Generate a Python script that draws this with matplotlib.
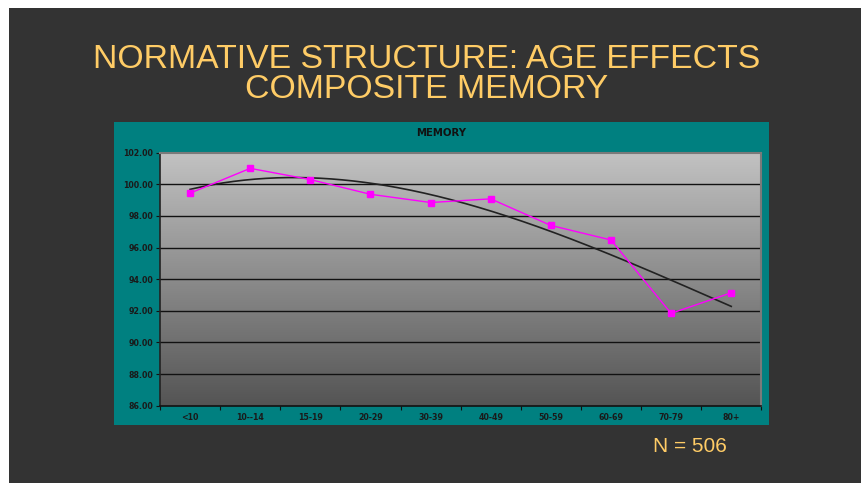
import numpy as np
import matplotlib
matplotlib.use("Agg")
import matplotlib.pyplot as plt
from matplotlib.patches import Rectangle

# ---- data ----
categories = ["<10", "10--14", "15-19", "20-29", "30-39", "40-49", "50-59", "60-69", "70-79", "80+"]
memory = [99.44, 101.01, 100.30, 99.37, 98.85, 99.08, 97.40, 96.48, 91.84, 93.14]
y_ticks = [86, 88, 90, 92, 94, 96, 98, 100, 102]
title_line1 = "NORMATIVE STRUCTURE: AGE EFFECTS"
title_line2 = "COMPOSITE MEMORY"
chart_title = "MEMORY"
note = "N = 506"

W, H = 862, 483
fig = plt.figure(figsize=(W / 100, H / 100), dpi=100)
fig.patch.set_facecolor("white")

def fx(px):
    return px / W

def fy(py):
    return 1 - py / H

# dark slide background
fig.add_artist(Rectangle((fx(9), 0), fx(861) - fx(9), fy(8), transform=fig.transFigure,
                         facecolor="#333333", edgecolor="none", zorder=0))
# teal chart panel
fig.add_artist(Rectangle((fx(113.7), fy(425)), fx(769.3) - fx(113.7), fy(121.7) - fy(425),
                         transform=fig.transFigure, facecolor="#008080", edgecolor="none", zorder=0))

gold = "#FFCC66"
fig.text(fx(427), fy(60), title_line1, ha="center", va="center", color=gold,
         fontsize=24.3, family="Liberation Sans")
fig.text(fx(427), fy(89), title_line2, ha="center", va="center", color=gold,
         fontsize=24.3, family="Liberation Sans")
fig.text(fx(690), fy(447), note, ha="center", va="center", color=gold,
         fontsize=15, family="Liberation Sans")
fig.text(fx(441), fy(133), chart_title, ha="center", va="center", color="#111111",
         fontsize=7.3, family="DejaVu Sans", fontweight="bold")

ax = fig.add_axes([fx(160), fy(405.7), fx(761.3) - fx(160), fy(152.7) - fy(405.7)])
ax.set_facecolor("none")

x = np.arange(1, len(categories) + 1)
ax.set_xlim(0.5, len(categories) + 0.5)
ax.set_ylim(86, 102)

# gradient background of plot area
grad = np.linspace(0, 1, 256)[:, None]
top = np.array([0.76, 0.76, 0.76])
bot = np.array([0.33, 0.33, 0.33])
img = top[None, None, :] * (1 - grad[:, :, None]) + bot[None, None, :] * grad[:, :, None]
ax.imshow(img, extent=[0.5, len(categories) + 0.5, 86, 102], aspect="auto", zorder=0,
          origin="upper")

# gridlines
for yt in y_ticks[1:-1]:
    ax.axhline(yt, color="#111111", lw=1.0, zorder=1)

# polynomial trendline
coef = np.polyfit(x, memory, 3)
xs = np.linspace(1, len(categories), 200)
ax.plot(xs, np.polyval(coef, xs), color="#222222", lw=1.2, zorder=2)

ax.plot(x, memory, color="#FF00FF", lw=1.0, marker="s", markersize=4,
        markerfacecolor="#FF00FF", markeredgecolor="#FF00FF", zorder=3)

ax.set_yticks(y_ticks)
ax.set_yticklabels([f"{v:.2f}" for v in y_ticks])
ax.set_xticks(x)
ax.set_xticklabels(categories)
ax.set_xticks(np.arange(0.5, len(categories) + 1, 1), minor=True)
ax.tick_params(axis="x", which="major", length=0, pad=5)
ax.tick_params(axis="x", which="minor", length=3, width=0.8, color="#111111", direction="out")
ax.tick_params(axis="y", length=3, width=0.8, color="#111111", direction="out", pad=2)
for lab in ax.get_xticklabels() + ax.get_yticklabels():
    lab.set_fontsize(5.7)
    lab.set_family("DejaVu Sans")
    lab.set_fontweight("bold")
    lab.set_color("#1a1a1a")

ax.spines["left"].set_color("#222222")
ax.spines["bottom"].set_color("#111111")
ax.spines["left"].set_linewidth(1.2)
ax.spines["bottom"].set_linewidth(1.2)
ax.spines["top"].set_color("#7a7a7a")
ax.spines["right"].set_color("#7a7a7a")
ax.spines["top"].set_linewidth(1.5)
ax.spines["right"].set_linewidth(1.5)

fig.savefig("out.png", dpi=100)
